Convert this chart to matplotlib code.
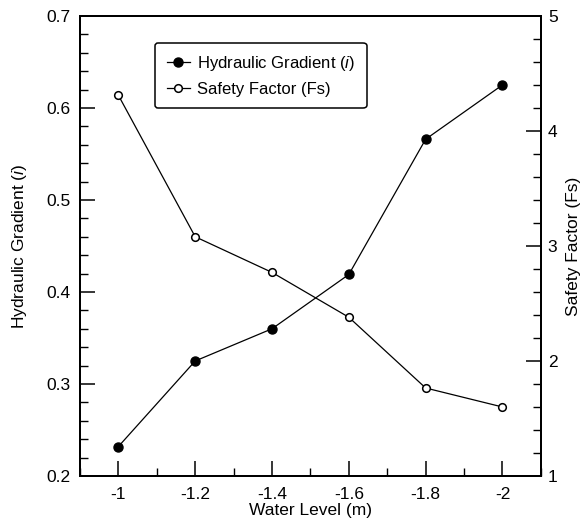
import matplotlib
matplotlib.use("Agg")
import matplotlib.pyplot as plt
from matplotlib.ticker import MultipleLocator, FixedLocator
from matplotlib.lines import Line2D

plt.rcParams['font.family'] = ['Liberation Sans', 'DejaVu Sans']
plt.rcParams['mathtext.fontset'] = 'custom'
plt.rcParams['mathtext.it'] = 'Liberation Sans:italic'
plt.rcParams['mathtext.rm'] = 'Liberation Sans'

water_level = [-1.0, -1.2, -1.4, -1.6, -1.8, -2.0]
hydraulic_gradient = [0.232, 0.325, 0.360, 0.419, 0.566, 0.625]
safety_factor = [4.31, 3.08, 2.77, 2.38, 1.765, 1.60]
x_ticks = [-1.0, -1.2, -1.4, -1.6, -1.8, -2.0]
x_tick_labels = ['-1', '-1.2', '-1.4', '-1.6', '-1.8', '-2']

fig = plt.figure(figsize=(5.86, 5.31), dpi=100)
ax = fig.add_axes([0.1365, 0.1036, 0.7865, 0.8664])
ax2 = ax.twinx()

ax.plot(water_level, hydraulic_gradient, color='black', lw=0.9,
        marker='o', markersize=6.5, markerfacecolor='black', markeredgecolor='black')
ax2.plot(water_level, safety_factor, color='black', lw=0.9,
         marker='o', markersize=5.5, markerfacecolor='white', markeredgecolor='black',
         markeredgewidth=1.1)

ax.set_xlim(-0.9, -2.1)
ax.set_ylim(0.2, 0.7)
ax2.set_ylim(1, 5)

ax.xaxis.set_major_locator(FixedLocator(x_ticks))
ax.set_xticklabels(x_tick_labels)
ax.xaxis.set_minor_locator(MultipleLocator(0.1))
ax.yaxis.set_major_locator(MultipleLocator(0.1))
ax.yaxis.set_minor_locator(MultipleLocator(0.02))
ax2.yaxis.set_major_locator(MultipleLocator(1))
ax2.yaxis.set_minor_locator(MultipleLocator(0.2))

for a in (ax, ax2):
    a.tick_params(which='major', direction='in', length=11, width=1.1, labelsize=12.5)
    a.tick_params(which='minor', direction='in', length=5.5, width=1.0)
    for s in a.spines.values():
        s.set_linewidth(1.4)
ax.tick_params(axis='x', which='both', top=False, pad=8)
ax.tick_params(axis='y', which='both', right=False, pad=7)
ax2.tick_params(axis='y', which='both', left=False, right=True, pad=5)

ax.set_yticklabels([f'{v:.1f}' for v in ax.get_yticks()])

ax.set_xlabel('Water Level (m)', fontsize=12.5, labelpad=1)
ax.set_ylabel('Hydraulic Gradient ($\\mathit{i}$)', fontsize=12.5, labelpad=12)
ax2.set_ylabel('Safety Factor (Fs)', fontsize=12.5, labelpad=6)

handles = [
    Line2D([], [], color='black', lw=0.9, marker='o', markersize=6.5,
           markerfacecolor='black', markeredgecolor='black'),
    Line2D([], [], color='black', lw=0.9, marker='o', markersize=5.5,
           markerfacecolor='white', markeredgecolor='black', markeredgewidth=1.1),
]
labels = ['Hydraulic Gradient ($\\mathit{i}$)', 'Safety Factor (Fs)']
leg = ax2.legend(handles, labels, loc='upper left', bbox_to_anchor=(0.145, 0.96),
                 fontsize=12, frameon=True, fancybox=True, framealpha=1,
                 edgecolor='black', handlelength=1.4, handletextpad=0.4,
                 borderpad=0.7, labelspacing=0.5)
leg.get_frame().set_linewidth(1.1)

fig.savefig('out.png', dpi=100)
